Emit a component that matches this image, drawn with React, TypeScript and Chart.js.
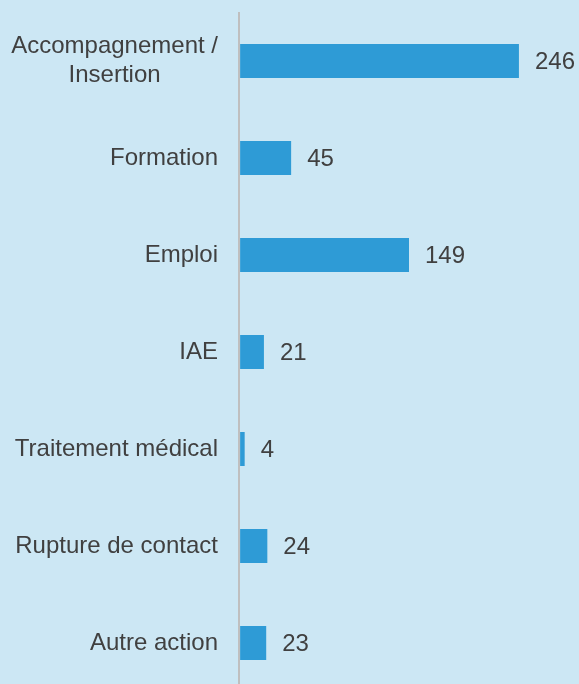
import React, { useEffect, useRef } from "react";
import { Chart, registerables } from "chart.js";

Chart.register(...registerables);

const categories: string[][] = [
  ["Accompagnement /", "Insertion"],
  ["Formation"],
  ["Emploi"],
  ["IAE"],
  ["Traitement médical"],
  ["Rupture de contact"],
  ["Autre action"],
];
const values: number[] = [246, 45, 149, 21, 4, 24, 23];

const BG = "#cce7f4";
const BAR = "#2e9bd6";
const TEXT = "#404040";
const FONT = "24px 'Liberation Sans', Arial, sans-serif";

export default function App() {
  const ref = useRef<HTMLCanvasElement>(null);
  useEffect(() => {
    document.body.style.margin = "0";
    document.body.style.overflow = "hidden";
    document.body.style.background = BG;
    const canvas = ref.current!;
    const bgPlugin = {
      id: "bg",
      beforeDraw(chart: any) {
        const { ctx, width, height } = chart;
        ctx.save();
        ctx.fillStyle = BG;
        ctx.fillRect(0, 0, width, height);
        ctx.restore();
      },
    };
    const labelPlugin = {
      id: "labels",
      afterDatasetsDraw(chart: any) {
        const { ctx, chartArea } = chart;
        const y = chart.scales.y;
        const meta = chart.getDatasetMeta(0);
        ctx.save();
        ctx.font = FONT;
        ctx.fillStyle = TEXT;
        ctx.textBaseline = "middle";
        const right = chartArea.left - 21;
        const lh = 28.5;
        categories.forEach((lines, i) => {
          const cy = y.getPixelForValue(i);
          const maxW = Math.max(...lines.map((l) => ctx.measureText(l).width));
          const cx = right - maxW / 2;
          ctx.textAlign = "center";
          lines.forEach((l, k) => {
            const ly = cy + (k - (lines.length - 1) / 2) * lh;
            ctx.fillText(l, cx, ly);
          });
          const bar = meta.data[i];
          ctx.textAlign = "left";
          ctx.fillText(String(values[i]), bar.x + 16, cy + 1);
        });
        ctx.restore();
      },
    };
    const chart = new Chart(canvas, {
      type: "bar",
      data: {
        labels: categories.map((c) => c.join(" ")),
        datasets: [
          {
            data: values,
            backgroundColor: BAR,
            borderWidth: 0,
            barPercentage: 0.35,
            categoryPercentage: 1,
          },
        ],
      },
      options: {
        indexAxis: "y",
        animation: false,
        responsive: false,
        layout: { padding: { top: 12.5, bottom: 8.5, left: 0, right: 0 } },
        plugins: { legend: { display: false }, tooltip: { enabled: false } },
        scales: {
          x: {
            display: false,
            min: -1,
            max: 299,
          },
          y: {
            grid: { display: false, drawTicks: false },
            border: { display: true, color: "#bfbfbf", width: 2 },
            ticks: { display: false },
            afterFit(scale: any) {
              scale.width = 239;
            },
          },
        },
      },
      plugins: [bgPlugin, labelPlugin],
    });
    return () => chart.destroy();
  }, []);
  return <canvas ref={ref} width={579} height={700} style={{ display: "block" }} />;
}
